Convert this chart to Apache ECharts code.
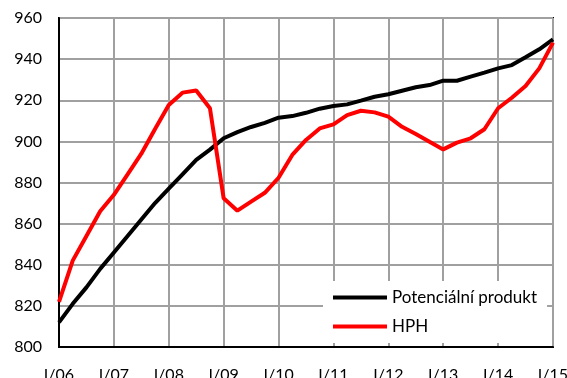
<!DOCTYPE html>
<html>
<head>
<meta charset="utf-8">
<script src="https://cdn.jsdelivr.net/npm/echarts@6/dist/echarts.min.js"></script>
<style>
  html, body { margin: 0; padding: 0; background: #fff; }
  #chart { width: 567px; height: 378px; }
</style>
</head>
<body>
<div id="chart"></div>
<script>
// Quarterly periods I/06 .. I/15
const years = ['06','07','08','09','10','11','12','13','14','15'];
const quarterNames = ['I','II','III','IV'];
const categories = [];
years.forEach(function (y, i) {
  quarterNames.forEach(function (q, k) {
    if (i < years.length - 1 || k === 0) categories.push(q + '/' + y);
  });
});

// Potential output (black line)
const potencialniProdukt = [
  812, 821, 829, 838, 846, 854, 862, 870, 877,
  884, 891, 896, 901.5, 904.5, 907, 909, 911.5,
  912.3, 913.9, 915.9, 917.2, 918.0, 919.8, 921.7, 922.9,
  924.6, 926.3, 927.4, 929.5, 929.5, 931.5, 933.4, 935.5,
  937.1, 940.9, 944.8, 949.6
];

// GDP (red line)
const hph = [
  822, 842, 854, 866, 874, 884, 894, 906, 917.7,
  923.7, 924.7, 916.1, 872.3, 866.3, 870.7, 875.0, 882.3,
  893.4, 900.7, 906.3, 908.3, 912.8, 914.9, 914.1, 912.0,
  907.1, 903.6, 899.8, 896.1, 899.4, 901.5, 905.9, 916.1,
  921.2, 926.9, 935.5, 948.0
];

const yMin = 800, yMax = 960, yStep = 20;
const fontFamily = 'Lato, "Noto Sans", sans-serif';

const chart = echarts.init(document.getElementById('chart'), null, { renderer: 'canvas' });
chart.setOption({
  animation: false,
  backgroundColor: '#fff',
  grid: {
    left: 59, right: 14, top: 18, bottom: 31,
    containLabel: false, outerBoundsMode: 'none',
    show: true, borderColor: '#000', borderWidth: 2, backgroundColor: 'transparent'
  },
  xAxis: {
    type: 'category',
    data: categories,
    boundaryGap: false,
    axisLine: { show: true, lineStyle: { color: '#000', width: 2 } },
    axisTick: { show: false },
    axisLabel: {
      interval: 3, margin: 20, color: '#000',
      fontFamily: fontFamily, fontSize: 16,
      showMinLabel: true, showMaxLabel: true
    },
    splitLine: { show: true, interval: 3, lineStyle: { color: '#a0a0a0', width: 2 } }
  },
  yAxis: {
    type: 'value',
    min: yMin, max: yMax, interval: yStep,
    axisLine: { show: true, lineStyle: { color: '#000', width: 2 } },
    axisTick: { show: false },
    axisLabel: { margin: 17, color: '#000', fontFamily: fontFamily, fontSize: 16 },
    splitLine: { show: true, lineStyle: { color: '#a0a0a0', width: 2 } }
  },
  legend: {
    orient: 'vertical',
    left: 323, top: 281,
    backgroundColor: '#fff',
    padding: [8, 10, 8, 10],
    itemWidth: 54, itemHeight: 4, itemGap: 12,
    icon: 'rect',
    textStyle: { fontFamily: fontFamily, fontSize: 17, color: '#000', lineHeight: 17 },
    data: ['Potenciální produkt', 'HPH']
  },
  series: [
    {
      name: 'Potenciální produkt', type: 'line', data: potencialniProdukt,
      showSymbol: false, lineStyle: { color: '#000', width: 4 }, itemStyle: { color: '#000' }, z: 3
    },
    {
      name: 'HPH', type: 'line', data: hph,
      showSymbol: false, lineStyle: { color: '#ff0000', width: 4 }, itemStyle: { color: '#ff0000' }, z: 4
    }
  ]
});
</script>
</body>
</html>
